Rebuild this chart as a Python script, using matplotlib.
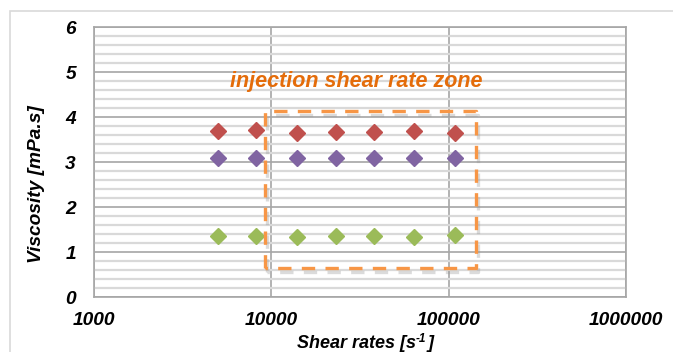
import numpy as np
import matplotlib.pyplot as plt
import matplotlib.patheffects as pe
from matplotlib.patches import Rectangle
from matplotlib.ticker import FixedLocator, NullFormatter

plt.rcParams['font.family'] = ['Liberation Sans', 'DejaVu Sans']

# shear rates [1/s]
shear = [5000, 8200, 14000, 23000, 38000, 64000, 108000]
visc_red = [3.70, 3.72, 3.64, 3.67, 3.67, 3.68, 3.64]
visc_purple = [3.09, 3.09, 3.09, 3.09, 3.09, 3.09, 3.09]
visc_green = [1.36, 1.36, 1.34, 1.36, 1.35, 1.34, 1.37]

# injection zone box
zone_x = [9200, 142000]
zone_y = [0.64, 4.13]
zone_label = "injection shear rate zone"

fig = plt.figure(figsize=(6.73, 3.52), dpi=100)
ax = fig.add_axes([0.1397, 0.156, 0.7908, 0.767])

# chart outer frame
fig.patches.append(Rectangle((10/673, -0.1), 1.0, 1 - 11/352 + 0.1, transform=fig.transFigure,
                             fill=False, edgecolor='#d9d9d9', linewidth=1.2))

ax.set_xscale('log')
ax.set_xlim(1000, 1000000)
ax.set_ylim(0, 6)

ax.yaxis.set_minor_locator(FixedLocator(np.arange(0, 6.01, 0.2)))
ax.xaxis.set_minor_locator(FixedLocator([]))
ax.xaxis.set_minor_formatter(NullFormatter())
ax.grid(True, which='minor', axis='y', color='#d9d9d9', linewidth=1.6)
ax.grid(True, which='major', axis='both', color='#a6a6a6', linewidth=1.2)
ax.set_axisbelow(True)
for s in ax.spines.values():
    s.set_color('#a6a6a6')
    s.set_linewidth(1.2)

ax.set_xticks([1000, 10000, 100000, 1000000])
ax.set_xticklabels(['1000', '10000', '100000', '1000000'])
ax.set_yticks(range(7))
ax.tick_params(which='both', length=0)
ax.tick_params(axis='x', pad=11)
ax.tick_params(axis='y', pad=13)
for lab in ax.get_xticklabels() + ax.get_yticklabels():
    lab.set_fontsize(13.8)
    lab.set_fontweight('bold')
    lab.set_fontstyle('italic')

ax.plot(shear, visc_red, 'D', color='#c0504d', markersize=8.3, linestyle='none')
ax.plot(shear, visc_purple, 'D', color='#8064a2', markersize=8.3, linestyle='none')
ax.plot(shear, visc_green, 'D', color='#9bbb59', markersize=8.3, linestyle='none')

ax.plot([zone_x[0], zone_x[0], zone_x[1], zone_x[1], zone_x[0]],
        [zone_y[0], zone_y[1], zone_y[1], zone_y[0], zone_y[0]],
        color='#f79646', linewidth=2.4, dashes=(4, 3.1),
        path_effects=[pe.SimpleLineShadow(offset=(1.5, -3), shadow_color='#999999', alpha=0.35),
                      pe.Normal()])

ax.text(30000, 4.8, zone_label, color='#e46c0a', fontsize=15.5, fontweight='bold',
        fontstyle='italic', ha='center', va='center')

fig.text(37/673, 1 - 184/352, 'Viscosity [mPa.s]', rotation=90, fontsize=13.8,
         fontweight='bold', fontstyle='italic', ha='center', va='center')

# x label with superscript built from pieces
lab_kw = dict(fontsize=13, fontweight='bold', fontstyle='italic', va='baseline')
t1 = fig.text(297/673, 1 - 348/352, 'Shear rates [s', ha='left', **lab_kw)
r = fig.canvas.get_renderer()
bb = t1.get_window_extent(r)
t2 = fig.text(bb.x1 / 673, 1 - 342/352, '-1', ha='left', fontsize=8.5,
              fontweight='bold', fontstyle='italic', va='baseline')
bb2 = t2.get_window_extent(r)
fig.text(bb2.x1 / 673 + 1/673, 1 - 348/352, ']', ha='left', **lab_kw)

fig.savefig('out.png', dpi=100)
